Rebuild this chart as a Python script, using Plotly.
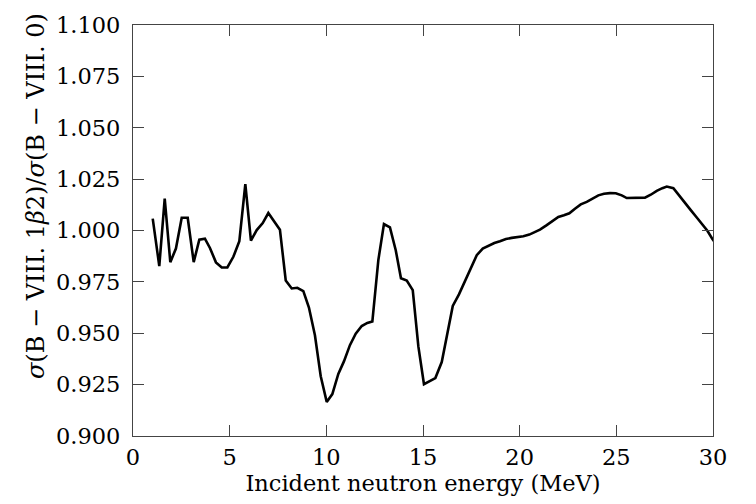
import plotly.graph_objects as go

# Incident neutron energy (MeV)
energy = [1.02, 1.36, 1.64, 1.93, 2.22, 2.52, 2.83, 3.14, 3.43, 3.72, 3.98, 4.29, 4.59,
          4.88, 5.19, 5.50, 5.81, 6.10, 6.40, 6.71, 7.00, 7.31, 7.60, 7.90, 8.21, 8.50,
          8.81, 9.10, 9.41, 9.71, 10.02, 10.31, 10.62, 10.91, 11.22, 11.52, 11.83, 12.12,
          12.38, 12.69, 12.98, 13.29, 13.59, 13.86, 14.16, 14.47, 14.76, 15.05, 15.64,
          15.97, 16.26, 16.54, 16.86, 17.17, 17.47, 17.78, 18.09, 18.38, 18.69, 18.98,
          19.29, 19.59, 19.88, 20.19, 20.50, 20.79, 21.05, 21.40, 21.71, 22.00, 22.29,
          22.57, 22.86, 23.16, 23.47, 23.78, 24.07, 24.36, 24.67, 24.97, 25.28, 25.54,
          25.88, 26.17, 26.48, 26.78, 27.09, 27.38, 27.61, 27.95, 28.24, 28.55, 28.85,
          29.16, 29.45, 29.71, 29.97, 30.20]

# Cross-section ratio B-VIII.1β2 / B-VIII.0
ratio = [1.0058, 0.9827, 1.0155, 0.9846, 0.9912, 1.0062, 1.0062, 0.9846, 0.9955, 0.9960,
         0.9915, 0.9845, 0.9820, 0.9820, 0.9872, 0.9948, 1.0226, 0.9951, 1.0002, 1.0036,
         1.0085, 1.0042, 1.0004, 0.9757, 0.9718, 0.9721, 0.9705, 0.9625, 0.9490, 0.9291,
         0.9166, 0.9204, 0.9302, 0.9363, 0.9442, 0.9498, 0.9535, 0.9550, 0.9557, 0.9856,
         1.0031, 1.0015, 0.9904, 0.9768, 0.9757, 0.9710, 0.9436, 0.9252, 0.9282, 0.9360,
         0.9490, 0.9633, 0.9689, 0.9753, 0.9816, 0.9880, 0.9912, 0.9927, 0.9939, 0.9948,
         0.9959, 0.9964, 0.9967, 0.9972, 0.9980, 0.9991, 1.0004, 1.0026, 1.0047, 1.0066,
         1.0074, 1.0084, 1.0106, 1.0127, 1.0139, 1.0155, 1.0171, 1.0179, 1.0182, 1.0181,
         1.0171, 1.0158, 1.0160, 1.0160, 1.0160, 1.0174, 1.0193, 1.0206, 1.0214, 1.0206,
         1.0171, 1.0130, 1.0099, 1.0063, 1.0026, 0.9999, 0.9959, 0.9930]

x_ticks = [0, 5, 10, 15, 20, 25, 30]
y_ticks = [0.900, 0.925, 0.950, 0.975, 1.000, 1.025, 1.050, 1.075, 1.100]

FONT = "DejaVu Serif"
AXIS_COLOR = "#444444"

fig = go.Figure(
    go.Scatter(
        x=energy,
        y=ratio,
        mode="lines",
        line=dict(color="black", width=2.6),
        showlegend=False,
    )
)

common_axis = dict(
    showline=True,
    linecolor=AXIS_COLOR,
    linewidth=1.2,
    mirror="ticks",
    ticks="inside",
    ticklen=11,
    tickcolor=AXIS_COLOR,
    tickwidth=1,
    showgrid=False,
    zeroline=False,
    tickfont=dict(family=FONT, size=22.5, color="black"),
)

fig.update_xaxes(
    range=[0, 30],
    tickvals=x_ticks,
    ticktext=[str(v) for v in x_ticks],
    ticklabelstandoff=1,
    title=dict(text="Incident neutron energy (MeV)",
               font=dict(family=FONT, size=22.5, color="black"), standoff=6),
    **common_axis,
)
fig.update_yaxes(
    range=[0.9, 1.1],
    tickvals=y_ticks,
    ticktext=[f"{v:.3f}" for v in y_ticks],
    ticklabelstandoff=7,
    **common_axis,
)

# Rotated y label placed beside the tick labels
fig.add_annotation(
    text="<i>σ</i>(B − VIII. 1<i>β</i>2)/<i>σ</i>(B − VIII. 0)",
    xref="paper", yref="paper",
    x=-0.167, y=0.584,
    xanchor="center", yanchor="middle",
    textangle=-90,
    showarrow=False,
    font=dict(family=FONT, size=24, color="black"),
)

fig.update_layout(
    width=756,
    height=504,
    margin=dict(l=133, r=43, t=17, b=68),
    paper_bgcolor="white",
    plot_bgcolor="white",
    font=dict(family=FONT, color="black"),
)

fig.write_html("out.html")
